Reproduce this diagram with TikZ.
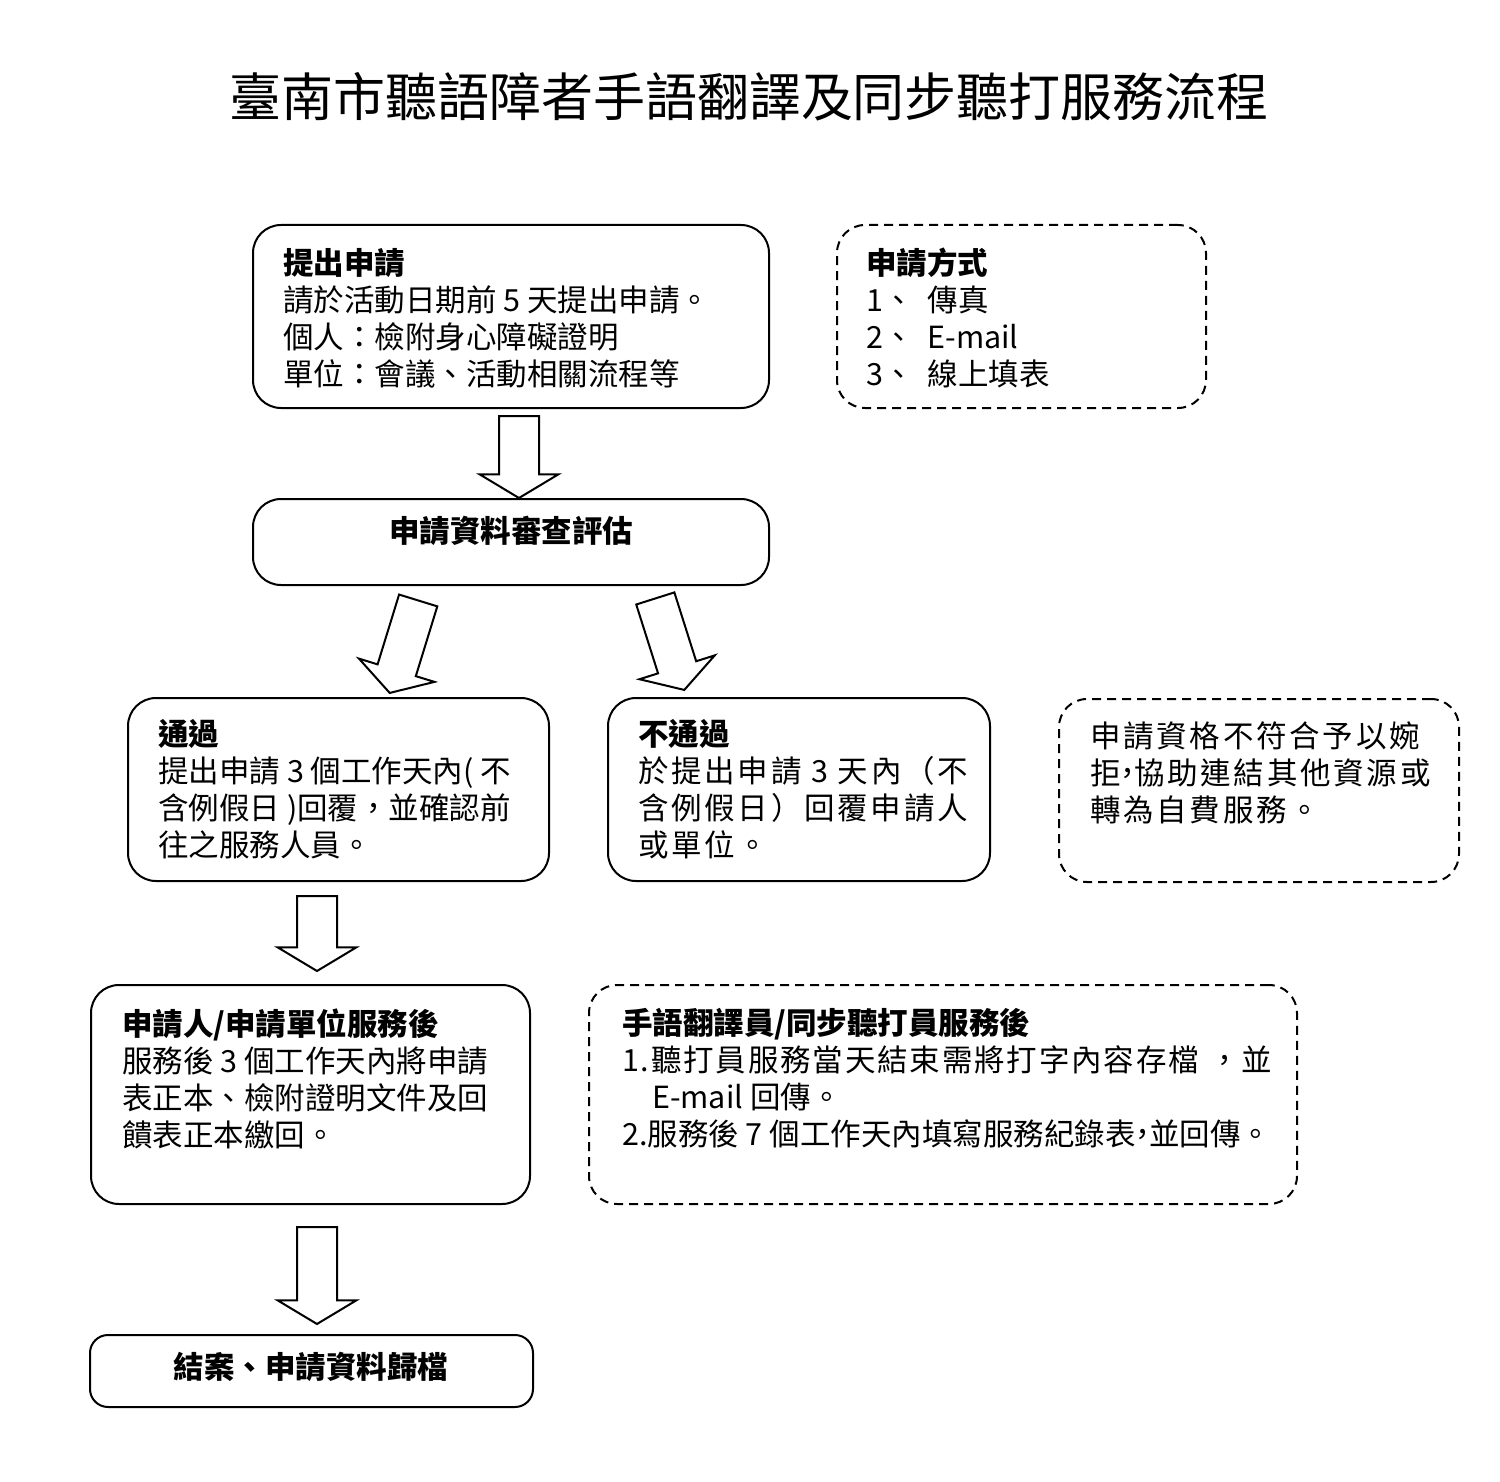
\documentclass[tikz,border=0pt]{standalone}
\usepackage{fontspec}
\setmainfont{Noto Sans CJK TC}
\usetikzlibrary{shapes.arrows, calc}

\newcommand{\wideline}[1]{{\addfontfeature{LetterSpace=9}#1}}
\newcommand{\shortcomma}{\kern-8pt，\kern-9pt}
\newcommand{\bigarrow}[2]{%
  \path let \p1=($(#2)-(#1)$), \n1={veclen(\x1,\y1)}, \n2={atan2(\y1,\x1)} in
    (#1) node[blockarrow, anchor=tail, rotate=\n2, minimum height=\n1] {};}

\tikzset{
  box/.style={draw, line width=2pt, rounded corners=28pt, inner sep=0pt},
  dashbox/.style={box, dash pattern=on 9pt off 6pt},
  txt/.style={anchor=north west, align=left, inner sep=0pt,
    font=\fontsize{30.5}{37}\selectfont},
  blockarrow/.style={draw, line width=2pt, fill=white, single arrow,
    inner xsep=0pt, inner ysep=19pt, single arrow head extend=19.5pt,
    single arrow tip angle=118},
}

\begin{document}
\begin{tikzpicture}[x=1pt, y=-1pt]
\useasboundingbox (0,0) rectangle (1500,1482);
%
\node(title) at (749,97) {\fontsize{52}{58}\selectfont 臺南市聽語障者手語翻譯及同步聽打服務流程};
%
\node(apply) at (511,316.5) [box, minimum width=516pt, minimum height=183pt] {};
\node(applyt) at (283,248) [txt] {\textbf{提出申請}\\請於活動日期前 5 天提出申請。\\個人：檢附身心障礙證明\\單位：會議、活動相關流程等};
%
\node(way) at (1021.5,316.5) [dashbox, minimum width=369pt, minimum height=183pt] {};
\node(wayt) at (866,248) [txt] {\textbf{申請方式}\\1、\hspace{14pt}傳真\\2、\hspace{14pt}E-mail\\3、\hspace{14pt}線上填表};
%
\node(review) at (511,542) [box, minimum width=516pt, minimum height=86pt] {};
\node(reviewt) at (511,531) [txt, anchor=center] {\textbf{申請資料審查評估}};
%
\coordinate(a1s) at (519,415);
\coordinate(a1e) at (519,497);
\bigarrow{a1s}{a1e}
%
\node(pass) at (338.5,789.5) [box, minimum width=421pt, minimum height=183pt] {};
\node(passt) at (158,719) [txt] {\textbf{通過}\\提出申請 3 個工作天內( 不\\含例假日 )回覆，並確認前\\往之服務人員。};
%
\node(fail) at (799,789.5) [box, minimum width=382pt, minimum height=183pt] {};
\node(failt) at (638,719) [txt] {\textbf{不通過}\\\wideline{於提出申請 3 天內（不}\\\wideline{含例假日）回覆申請人}\\\wideline{或單位。}};
%
\node(reject) at (1259,790.5) [dashbox, minimum width=400pt, minimum height=183pt] {};
\node(rejectt) at (1090,721) [txt] {\wideline{申請資格不符合予以婉}\\\wideline{拒\shortcomma 協助連結其他資源或}\\\wideline{轉為自費服務。}};
%
\coordinate(a2s) at (418.5,599.5);
\coordinate(a2e) at (390,692);
\bigarrow{a2s}{a2e}
\coordinate(a3s) at (655,597.5);
\coordinate(a3e) at (684,689);
\bigarrow{a3s}{a3e}
%
\coordinate(a4s) at (317,895);
\coordinate(a4e) at (317,970);
\bigarrow{a4s}{a4e}
%
\node(after) at (310.5,1094.5) [box, minimum width=439pt, minimum height=219pt] {};
\node(aftert) at (122,1009) [txt] {\textbf{申請人/申請單位服務後}\\服務後 3 個工作天內將申請\\表正本、檢附證明文件及回\\饋表正本繳回。};
%
\node(staff) at (943,1094.5) [dashbox, minimum width=708pt, minimum height=219pt] {};
\node(stafft) at (622,1008) [txt] {\textbf{手語翻譯員/同步聽打員服務後}\\{\addfontfeature{LetterSpace=6}1.聽打員服務當天結束需將打字內容存檔\hspace{10pt}，並}\\\hspace{30pt}E-mail 回傳。\\2.服務後 7 個工作天內填寫服務紀錄表\shortcomma 並回傳。};
%
\coordinate(a5s) at (317,1226);
\coordinate(a5e) at (317,1323);
\bigarrow{a5s}{a5e}
%
\node(close) at (311.5,1371) [box, minimum width=443pt, minimum height=72pt, rounded corners=18pt] {};
\node(closet) at (311,1367) [txt, anchor=center] {\textbf{結案、申請資料歸檔}};
\end{tikzpicture}
\end{document}
